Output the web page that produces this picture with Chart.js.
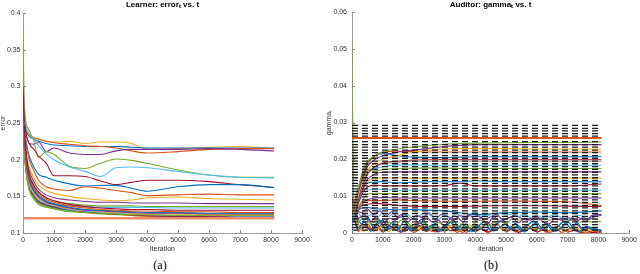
<!DOCTYPE html>
<html>
<head>
<meta charset="utf-8">
<script src="https://cdn.jsdelivr.net/npm/chart.js@4.4.1/dist/chart.umd.min.js"></script>
<style>
  html, body { margin:0; padding:0; background:#fff; }
  body { width:640px; height:274px; position:relative; overflow:hidden; }
  .panel { position:absolute; top:0; width:320px; height:256px; }
  .cap { position:absolute; top:258px; width:60px; text-align:center;
         font-family:'Liberation Serif','Times New Roman',serif; font-size:12px; color:#000; }
</style>
</head>
<body>
<div class="panel" style="left:0"><canvas id="learner" width="320" height="256"></canvas></div>
<div class="panel" style="left:320px"><canvas id="auditor" width="320" height="256"></canvas></div>
<div class="cap" style="left:130px">(a)</div>
<div class="cap" style="left:461px">(b)</div>
<script>
// ---------------- DATA ----------------
const xTicks = [0, 1000, 2000, 3000, 4000, 5000, 6000, 7000, 8000, 9000];
const learnerYTicks = [0.1, 0.15, 0.2, 0.25, 0.3, 0.35, 0.4];
const auditorYTicks = [0, 0.01, 0.02, 0.03, 0.04, 0.05, 0.06];

// iterations at which the smooth curves are sampled
const iterations = [0, 50, 100, 200, 350, 500, 750, 1000, 1500, 2000, 2500, 3000, 3500, 4000, 5000, 6000, 7000, 8100];
// iterations for the noisy auditor curves
const noiseIterations = [0,200,400,600,800,1000,1200,1400,1600,1800,2000,2200,2400,2600,2800,3000,3200,3400,3600,3800,4000,4200,4400,4600,4800,5000,5200,5400,5600,5800,6000,6200,6400,6600,6800,7000,7200,7400,7600,7800,8100];
const noiseIterationsB = [0,100,300,500,700,900,1100,1300,1500,1700,1900,2100,2300,2500,2700,2900,3100,3300,3500,3700,3900,4100,4300,4500,4700,4900,5100,5300,5500,5700,5900,6100,6300,6500,6700,6900,7100,7300,7500,7700,7900,8100];
const targetSpan = [0, 8100];

// Learner error_t (panel a)
const errFlat       = [0.12,0.12,0.12,0.12,0.12,0.12,0.12,0.12,0.12,0.12,0.12,0.12,0.12,0.12,0.12,0.12,0.12,0.12];
const errOrangeTop  = [0.31,0.26,0.245,0.235,0.23,0.228,0.225,0.224,0.225,0.222,0.224,0.224,0.222,0.214,0.215,0.217,0.218,0.215];
const errBlueTop    = [0.30,0.255,0.24,0.232,0.228,0.225,0.222,0.22,0.219,0.218,0.218,0.218,0.217,0.216,0.216,0.216,0.216,0.216];
const errRedTop     = [0.29,0.25,0.238,0.233,0.23,0.228,0.225,0.223,0.221,0.219,0.218,0.216,0.212,0.209,0.211,0.214,0.215,0.215];
const errPurpleTop  = [0.30,0.25,0.235,0.222,0.221,0.224,0.211,0.216,0.209,0.207,0.207,0.212,0.214,0.214,0.214,0.215,0.214,0.212];
const errGreenMid   = [0.30,0.27,0.25,0.24,0.225,0.203,0.211,0.207,0.191,0.188,0.195,0.201,0.199,0.195,0.186,0.179,0.176,0.176];
const errCyanMid    = [0.30,0.26,0.245,0.235,0.228,0.22,0.208,0.2,0.19,0.184,0.177,0.189,0.19,0.189,0.184,0.179,0.176,0.175];
const errDarkRedMid = [0.29,0.25,0.235,0.222,0.214,0.205,0.195,0.178,0.178,0.177,0.171,0.166,0.169,0.172,0.172,0.17,0.166,0.162];
const errBlueMid    = [0.29,0.245,0.225,0.205,0.19,0.18,0.176,0.172,0.167,0.164,0.165,0.165,0.161,0.157,0.163,0.166,0.166,0.162];
const errOrangeMid  = [0.28,0.24,0.22,0.2,0.185,0.172,0.163,0.16,0.158,0.163,0.161,0.158,0.155,0.151,0.152,0.153,0.152,0.152];
const errYellowMid  = [0.28,0.235,0.21,0.19,0.175,0.165,0.158,0.154,0.15,0.147,0.145,0.144,0.145,0.148,0.149,0.147,0.146,0.145];
const errPurpleLow  = [0.27,0.23,0.205,0.185,0.17,0.16,0.152,0.148,0.145,0.143,0.142,0.142,0.141,0.141,0.141,0.14,0.14,0.14];
const errGreenLow   = [0.27,0.225,0.2,0.18,0.165,0.155,0.148,0.144,0.14,0.138,0.137,0.137,0.137,0.136,0.136,0.136,0.136,0.136];
const errCyanLow    = [0.27,0.22,0.195,0.175,0.16,0.15,0.143,0.14,0.137,0.136,0.135,0.135,0.135,0.135,0.134,0.134,0.134,0.134];
const errCluster1   = [0.30,0.24,0.21,0.18,0.165,0.156,0.148,0.144,0.139,0.136,0.134,0.133,0.132,0.132,0.131,0.131,0.131,0.131];
const errCluster2   = [0.29,0.235,0.205,0.177,0.162,0.153,0.146,0.142,0.137,0.134,0.132,0.131,0.13,0.13,0.129,0.129,0.128,0.128];
const errCluster3   = [0.28,0.23,0.2,0.174,0.159,0.151,0.144,0.14,0.135,0.132,0.131,0.13,0.129,0.128,0.128,0.127,0.127,0.127];
const errCluster4   = [0.28,0.225,0.196,0.171,0.157,0.149,0.142,0.139,0.134,0.131,0.13,0.129,0.128,0.127,0.127,0.126,0.126,0.126];
const errCluster5   = [0.27,0.22,0.192,0.168,0.155,0.147,0.141,0.138,0.133,0.131,0.129,0.128,0.127,0.126,0.126,0.125,0.125,0.125];
const errCluster6   = [0.38,0.215,0.185,0.16,0.148,0.14,0.136,0.133,0.13,0.128,0.127,0.126,0.125,0.125,0.124,0.124,0.124,0.124];
const errCluster7   = [0.27,0.218,0.19,0.166,0.153,0.145,0.14,0.137,0.132,0.13,0.128,0.127,0.126,0.125,0.124,0.124,0.123,0.123];
const errCluster8   = [0.26,0.215,0.188,0.164,0.151,0.144,0.139,0.136,0.132,0.129,0.127,0.126,0.125,0.124,0.123,0.123,0.122,0.122];
const errCluster9   = [0.26,0.212,0.186,0.163,0.15,0.143,0.138,0.135,0.131,0.129,0.127,0.126,0.125,0.124,0.123,0.122,0.122,0.122];
const errCluster10  = [0.25,0.21,0.184,0.162,0.149,0.142,0.137,0.134,0.131,0.128,0.127,0.126,0.124,0.123,0.122,0.122,0.121,0.121];
const errGray       = [0.40,0.22,0.19,0.165,0.152,0.145,0.139,0.136,0.132,0.13,0.128,0.127,0.126,0.125,0.124,0.123,0.123,0.122];
const errCluster12  = [0.31,0.21,0.182,0.158,0.146,0.139,0.135,0.133,0.129,0.128,0.126,0.125,0.124,0.123,0.122,0.122,0.121,0.121];

// Auditor gamma_t (panel b): dashed target levels
const gammaTargets = [0.0292,0.0284,0.0277,0.0270,0.0263,0.0248,0.0240,0.0233,0.0225,0.0218,0.0210,0.0203,0.0195,0.0188,0.0180,0.0173,0.0165,0.0158,0.0150,0.0143,0.0135,0.0128,0.0120,0.0113,0.0105,0.0098,0.0090,0.0083,0.0075,0.0068,0.0060,0.0053,0.0045,0.0038,0.0030,0.0023,0.0015,0.0008];

// smooth auditor curves
const gamOrangeFlat = [0.0258,0.0258,0.0258,0.0258,0.0258,0.0258,0.0258,0.0258,0.0258,0.0258,0.0258,0.0258,0.0258,0.0258,0.0258,0.0258,0.0258,0.0258];
const gamGray       = [0.060,0.004,0.006,0.009,0.013,0.016,0.018,0.0188,0.0192,0.0194,0.0195,0.0195,0.0195,0.0195,0.0195,0.0195,0.0195,0.0195];
const gamGreen      = [0.053,0.006,0.008,0.012,0.017,0.0195,0.021,0.022,0.0228,0.0234,0.0238,0.0241,0.0243,0.0244,0.0245,0.0246,0.0246,0.0247];
const gamPurple     = [0.010,0.006,0.008,0.011,0.015,0.018,0.020,0.021,0.022,0.0225,0.023,0.0235,0.0238,0.024,0.024,0.024,0.024,0.024];
const gamYellow     = [0.010,0.005,0.007,0.010,0.014,0.017,0.019,0.020,0.021,0.022,0.0225,0.0228,0.0229,0.0229,0.0229,0.0228,0.0228,0.0228];
const gamRed        = [0.010,0.006,0.009,0.012,0.016,0.0185,0.021,0.022,0.0222,0.0221,0.022,0.022,0.022,0.022,0.022,0.022,0.022,0.022];
const gamBlue       = [0.010,0.005,0.008,0.012,0.016,0.019,0.021,0.0215,0.021,0.0206,0.0205,0.0205,0.0206,0.0207,0.0207,0.0207,0.0207,0.0207];
const gamDarkRed    = [0.009,0.005,0.007,0.010,0.013,0.016,0.018,0.019,0.0195,0.0198,0.0199,0.0199,0.0199,0.0199,0.0199,0.0199,0.0199,0.0199];
const gamCyan       = [0.009,0.004,0.007,0.011,0.015,0.017,0.0175,0.018,0.0185,0.0185,0.0184,0.0184,0.0184,0.0184,0.0184,0.0184,0.0184,0.0184];
const gamGreen2     = [0.008,0.004,0.006,0.010,0.014,0.017,0.0168,0.0172,0.0175,0.0176,0.0176,0.0176,0.0175,0.0175,0.0175,0.0175,0.0175,0.0175];
const gamPurple2    = [0.008,0.004,0.006,0.009,0.012,0.0145,0.016,0.0165,0.0166,0.0166,0.0166,0.0166,0.0166,0.0166,0.0166,0.0166,0.0166,0.0166];
const gamOrange2    = [0.008,0.004,0.006,0.009,0.012,0.014,0.0148,0.015,0.015,0.0149,0.0149,0.0149,0.0149,0.0149,0.0149,0.0149,0.0149,0.0149];
const gamBlue2      = [0.007,0.003,0.006,0.009,0.012,0.0135,0.0138,0.014,0.0136,0.0138,0.0139,0.0139,0.0139,0.0142,0.0139,0.0139,0.0139,0.0139];
const gamRed2       = [0.007,0.003,0.005,0.008,0.011,0.0125,0.013,0.0128,0.0128,0.0128,0.0128,0.0129,0.0135,0.0128,0.0128,0.0128,0.0128,0.0133];
const gamCyan2      = [0.007,0.003,0.005,0.008,0.010,0.0115,0.012,0.0118,0.0116,0.0116,0.0116,0.0116,0.0116,0.0116,0.0116,0.0116,0.0116,0.0116];
const gamGreen3     = [0.006,0.003,0.005,0.007,0.009,0.0105,0.0108,0.0107,0.0107,0.0107,0.0107,0.0107,0.0107,0.0107,0.0107,0.0107,0.0107,0.0107];
const gamPurple3    = [0.006,0.003,0.004,0.006,0.008,0.009,0.0095,0.0096,0.0095,0.0095,0.0095,0.0095,0.0095,0.0095,0.0095,0.0095,0.0095,0.0095];
const gamOrange3    = [0.006,0.003,0.005,0.007,0.0085,0.0088,0.0088,0.0088,0.009,0.0088,0.0087,0.0086,0.0086,0.0086,0.0087,0.0086,0.0085,0.0075];
const gamRed3       = [0.006,0.004,0.006,0.007,0.0075,0.0078,0.008,0.0079,0.0075,0.0073,0.0072,0.0072,0.0072,0.0073,0.0074,0.0074,0.0073,0.0072];
const gamBlue3      = [0.005,0.004,0.006,0.0065,0.0068,0.007,0.0065,0.0065,0.0063,0.0064,0.0062,0.006,0.0055,0.005,0.0055,0.0057,0.0055,0.006];

// noisy auditor curves
const gamNoisePurple = [0.008,0.004,0.005,0.003,0.0045,0.002,0.004,0.0035,0.005,0.003,0.004,0.0025,0.0045,0.003,0.0035,0.002,0.004,0.0045,0.003,0.005,0.0035,0.004,0.0025,0.0045,0.003,0.0038,0.0042,0.0028,0.004,0.0035,0.0045,0.003,0.0025,0.004,0.0035,0.003,0.0045,0.004,0.0032,0.0048,0.005];
const gamNoiseBlue   = [0.006,0.001,0.003,0.0005,0.002,0.0035,0.001,0.0025,0.0003,0.002,0.001,0.003,0.0008,0.0022,0.0005,0.0018,0.003,0.001,0.0025,0.0004,0.002,0.0012,0.0028,0.0006,0.0015,0.0025,0.0008,0.002,0.0003,0.0016,0.0028,0.001,0.0022,0.0005,0.0015,0.003,0.0012,0.0004,0.0018,0.001,0.0008];
const gamNoiseOrange = [0.007,0.0005,0.002,0.0008,0.0015,0.0003,0.0012,0.002,0.0005,0.0015,0.0002,0.001,0.0018,0.0004,0.0012,0.0006,0.0016,0.0002,0.001,0.0015,0.0004,0.0012,0.0002,0.0008,0.0015,0.0005,0.0012,0.0002,0.0009,0.0014,0.0003,0.001,0.0006,0.0013,0.0002,0.0008,0.0012,0.0004,0.0001,0.0006,0.0002];
const gamNoiseGreen  = [0.006,0.003,0.0045,0.0025,0.0035,0.0015,0.003,0.002,0.0035,0.0028,0.0015,0.003,0.0022,0.0012,0.0028,0.002,0.0032,0.0018,0.0025,0.0012,0.0028,0.0035,0.002,0.0028,0.0032,0.0025,0.0038,0.0035,0.0038,0.004,0.0036,0.0038,0.0035,0.0038,0.0036,0.0035,0.0034,0.003,0.0033,0.003,0.0032];
const gamNoiseYellow = [0.006,0.002,0.0005,0.0025,0.001,0.0018,0.0004,0.0022,0.001,0.0028,0.0006,0.0015,0.0025,0.0008,0.0018,0.0003,0.002,0.0012,0.0005,0.0022,0.001,0.0018,0.0028,0.0008,0.0015,0.0004,0.002,0.0012,0.0006,0.0018,0.0009,0.0022,0.0004,0.0015,0.001,0.0005,0.0018,0.0008,0.0003,0.0012,0.0006];
const gamNoiseCyan   = [0.007,0.0055,0.0035,0.005,0.004,0.0055,0.0045,0.0058,0.0042,0.005,0.0038,0.0048,0.0055,0.0045,0.0035,0.005,0.0042,0.0055,0.004,0.0048,0.0058,0.0045,0.005,0.0042,0.0055,0.0048,0.0052,0.0045,0.005,0.0042,0.0048,0.004,0.0045,0.005,0.0042,0.0038,0.0044,0.0048,0.004,0.0045,0.005];
const gamNoiseRed    = [0.006,0.0015,0.003,0.001,0.0025,0.0005,0.002,0.001,0.0002,0.0015,0.0008,0.002,0.0004,0.0012,0.0003,0.0018,0.0006,0.001,0.0002,0.0014,0.0005,0.0012,0.0003,0.0009,0.0015,0.0004,0.001,0.0002,0.0007,0.0012,0.0003,0.0008,0.0002,0.0006,0.0011,0.0003,0.0007,0.0002,0.0005,0.0001,0.0004];
const gamNoiseBlue2  = [0.008,0.006,0.0025,0.0045,0.0015,0.0035,0.0008,0.0028,0.0012,0.0032,0.0006,0.0024,0.0038,0.001,0.0026,0.0005,0.0022,0.0034,0.0009,0.0025,0.0004,0.0018,0.003,0.0008,0.0024,0.0036,0.0012,0.0026,0.0006,0.0021,0.0033,0.0011,0.0027,0.0007,0.0019,0.0032,0.0013,0.0028,0.0009,0.0016,0.0011,0.0006];
const gamNoiseOrange2= [0.007,0.005,0.001,0.0025,0.0005,0.0018,0.0032,0.0009,0.0022,0.0004,0.0016,0.0027,0.0007,0.0019,0.0003,0.0014,0.0024,0.0006,0.0017,0.0002,0.0012,0.0021,0.0005,0.0015,0.0026,0.0008,0.0018,0.0003,0.0013,0.0022,0.0006,0.0016,0.0002,0.0011,0.0019,0.0005,0.0014,0.0024,0.0007,0.0012,0.0004,0.0002];
const gamNoisePurple2= [0.009,0.007,0.0055,0.0065,0.005,0.006,0.0045,0.0058,0.004,0.0052,0.0036,0.0048,0.0042,0.0055,0.0038,0.005,0.0044,0.0034,0.0048,0.004,0.0052,0.0046,0.0038,0.0044,0.005,0.0036,0.0042,0.0048,0.004,0.0035,0.0044,0.0038,0.0046,0.0041,0.0036,0.0044,0.0039,0.0033,0.0042,0.0037,0.0045,0.0048];

// ---------------- STYLE ----------------
const C = { blue:'#0072BD', orange:'#D95319', yellow:'#EDB120', purple:'#7E2F8E',
            green:'#77AC30', cyan:'#4DBEEE', darkred:'#A2142F', gray:'#A0A0A0', salmon:'#EE8A6A' };

function pts(xs, ys) { return ys.map((y, i) => ({ x: xs[i], y })); }
function line(xs, ys, color, width, extra) {
  return Object.assign({ data: pts(xs, ys), borderColor: color, borderWidth: width || 1.1,
    pointRadius: 0, fill: false, cubicInterpolationMode: 'monotone' }, extra || {});
}
const NOISY = { cubicInterpolationMode: 'default', tension: 0.3 };

Chart.defaults.font.family = "'Liberation Sans', Arial, sans-serif";
Chart.defaults.font.size = 7;
Chart.defaults.color = '#333';

const inwardTicks = {
  id: 'inwardTicks',
  afterDraw(chart) {
    const ctx = chart.ctx, a = chart.chartArea;
    ctx.save(); ctx.strokeStyle = '#888'; ctx.lineWidth = 1;
    const xs = chart.scales.x, ys = chart.scales.y;
    xs.ticks.forEach((t, i) => { const p = Math.round(xs.getPixelForTick(i)) + 0.5;
      ctx.beginPath(); ctx.moveTo(p, a.bottom); ctx.lineTo(p, a.bottom - 3); ctx.stroke(); });
    ys.ticks.forEach((t, i) => { const p = Math.round(ys.getPixelForTick(i)) + 0.5;
      ctx.beginPath(); ctx.moveTo(a.left, p); ctx.lineTo(a.left + 3, p); ctx.stroke(); });
    ctx.restore();
  }
};

function options(cfg) {
  return {
    responsive: false, animation: false, events: [],
    layout: { padding: { left: 0, right: cfg.padRight, top: 0, bottom: 0 } },
    plugins: {
      legend: { display: false }, tooltip: { enabled: false },
      title: { display: true, text: cfg.title, fullSize: false, color: '#000',
               font: { size: 8, weight: 'bold' }, padding: { top: 0, bottom: cfg.titlePadBottom } }
    },
    scales: {
      x: { type: 'linear', min: 0, max: 9000,
           afterBuildTicks: s => { s.ticks = xTicks.map(v => ({ value: v })); },
           afterFit: s => { s.height = 23; },
           grid: { display: true, drawOnChartArea: false, drawTicks: false },
           border: { display: true, color: '#999', width: 1 },
           ticks: { autoSkip: false, maxRotation: 0, padding: 3, color: '#333', callback: v => String(v) },
           title: { display: true, text: 'iteration', color: '#333', font: { size: 7 }, padding: { top: 0, bottom: 2.5 } } },
      y: { type: 'linear', min: cfg.yMin, max: cfg.yMax,
           afterBuildTicks: s => { s.ticks = cfg.yTicks.map(v => ({ value: v })); },
           afterFit: s => { s.width = cfg.yWidth; },
           grid: { display: true, drawOnChartArea: false, drawTicks: false },
           border: { display: true, color: '#999', width: 1 },
           ticks: { padding: cfg.yTickPad, color: '#333', callback: v => String(Math.round(v * 1000) / 1000) },
           title: { display: true, text: cfg.yTitle, color: '#333', font: { size: 7, lineHeight: 1 }, padding: { top: cfg.yTitlePad, bottom: 0 } } }
    }
  };
}

// ---------------- PANEL (a) ----------------
const learnerSets = [
  line(iterations, errFlat, C.salmon, 2.5),
  line(iterations, errCluster1, C.darkred), line(iterations, errCluster2, C.orange),
  line(iterations, errCluster3, C.blue), line(iterations, errCluster4, C.purple),
  line(iterations, errCluster5, C.yellow), line(iterations, errCluster6, C.green),
  line(iterations, errCluster7, C.cyan), line(iterations, errCluster8, C.darkred),
  line(iterations, errCluster9, C.blue), line(iterations, errCluster10, C.orange),
  line(iterations, errCluster12, C.green), line(iterations, errGray, C.gray),
  line(iterations, errCyanLow, C.cyan), line(iterations, errGreenLow, C.green),
  line(iterations, errPurpleLow, C.purple), line(iterations, errYellowMid, C.yellow),
  line(iterations, errOrangeMid, C.orange), line(iterations, errBlueMid, C.blue),
  line(iterations, errDarkRedMid, C.darkred), line(iterations, errCyanMid, C.cyan),
  line(iterations, errGreenMid, C.green), line(iterations, errPurpleTop, C.purple),
  line(iterations, errRedTop, C.orange), line(iterations, errBlueTop, C.blue),
  line(iterations, errOrangeTop, C.yellow)
];

new Chart(document.getElementById('learner'), {
  type: 'line',
  data: { datasets: learnerSets },
  options: options({ title: 'Learner: errorₜ vs. t', titlePadBottom: 3.4, padRight: 18,
    yMin: 0.1, yMax: 0.4, yTicks: learnerYTicks, yWidth: 23, yTickPad: 2.5, yTitle: 'error', yTitlePad: 0 }),
  plugins: [inwardTicks]
});

// ---------------- PANEL (b) ----------------
const auditorSets = [];
gammaTargets.forEach(g => auditorSets.push({
  data: pts(targetSpan, [g, g]), borderColor: '#1a1a1a', borderWidth: 1.3, borderDash: [6, 4],
  pointRadius: 0, fill: false }));
auditorSets.push(
  line(iterations, gamOrangeFlat, C.orange, 2),
  line(iterations, gamGreen, C.green), line(iterations, gamPurple, C.purple),
  line(iterations, gamYellow, C.yellow), line(iterations, gamRed, C.orange),
  line(iterations, gamBlue, C.blue), line(iterations, gamDarkRed, C.darkred),
  line(iterations, gamCyan, C.cyan), line(iterations, gamGreen2, C.green),
  line(iterations, gamPurple2, C.purple), line(iterations, gamOrange2, C.yellow),
  line(iterations, gamBlue2, C.blue), line(iterations, gamRed2, C.darkred),
  line(iterations, gamCyan2, C.cyan), line(iterations, gamGreen3, C.green),
  line(iterations, gamPurple3, C.purple), line(iterations, gamOrange3, C.orange),
  line(iterations, gamRed3, C.darkred), line(iterations, gamBlue3, C.blue),
  line(noiseIterations, gamNoisePurple, C.purple, 1.1, NOISY),
  line(noiseIterations, gamNoiseCyan, C.cyan, 1.1, NOISY),
  line(noiseIterationsB, gamNoisePurple2, C.purple, 1.1, NOISY),
  line(noiseIterations, gamNoiseGreen, C.green, 1.1, NOISY),
  line(noiseIterations, gamNoiseBlue, C.blue, 1.3, NOISY),
  line(noiseIterationsB, gamNoiseBlue2, C.blue, 1.3, NOISY),
  line(noiseIterations, gamNoiseYellow, C.yellow, 1.3, NOISY),
  line(noiseIterations, gamNoiseRed, C.darkred, 1.1, NOISY),
  line(noiseIterationsB, gamNoiseOrange2, C.orange, 1.3, NOISY),
  line(noiseIterations, gamNoiseOrange, C.orange, 1.3, NOISY),
  line(iterations, gamGray, C.gray)
);

new Chart(document.getElementById('auditor'), {
  type: 'line',
  data: { datasets: auditorSets },
  options: options({ title: 'Auditor: gammaₜ vs. t', titlePadBottom: 2.4, padRight: 8,
    yMin: 0, yMax: 0.06, yTicks: auditorYTicks, yWidth: 32, yTickPad: 5, yTitle: 'gammaₜ', yTitlePad: 6 }),
  plugins: [inwardTicks]
});
</script>
</body>
</html>
